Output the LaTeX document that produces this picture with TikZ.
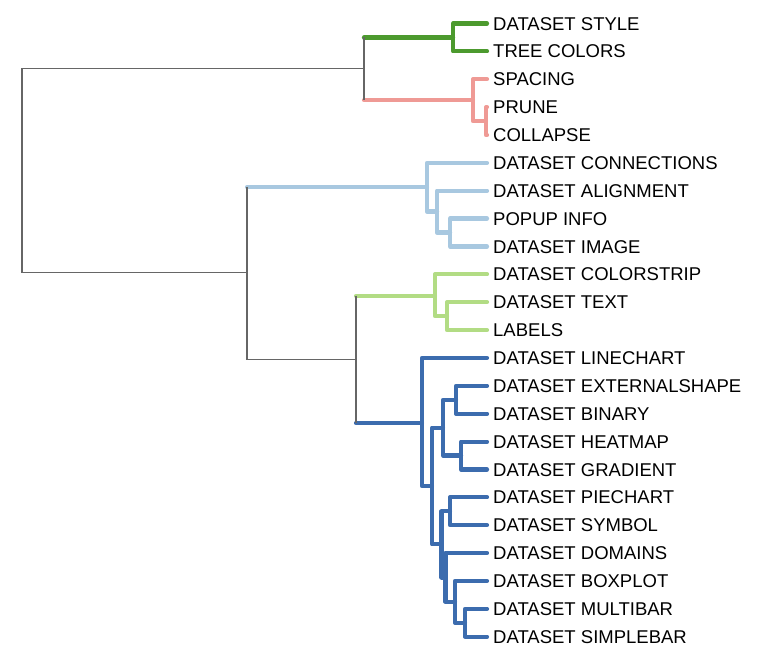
\documentclass[tikz,border=0pt]{standalone}
\usepackage{fontspec}
\setmainfont{Liberation Sans}
\definecolor{treegray}{HTML}{666666}
\definecolor{cgreen}{HTML}{4C9A2E}
\definecolor{cpink}{HTML}{EF9A95}
\definecolor{clblue}{HTML}{A8C8E0}
\definecolor{clgreen}{HTML}{B2DC84}
\definecolor{cdblue}{HTML}{3C6CAE}
\begin{document}
\begin{tikzpicture}[x=1pt,y=-1pt,
  leaf/.style={anchor=west, inner xsep=6pt, inner ysep=0pt, text height=13.2pt, text depth=0pt, font=\fontsize{18.5}{20}\selectfont},
  gbr/.style={draw=treegray, line width=1.2pt},
  cbr/.style={line width=4.2pt, line cap=round, line join=round}]
\useasboundingbox (0,0) rectangle (758,668);
% leaves
\node[leaf] (n1) at (487,23.5) {DATASET STYLE};
\node[leaf] (n2) at (487,51.4) {TREE COLORS};
\node[leaf] (n3) at (487,79.2) {SPACING};
\node[leaf] (n4) at (487,107.1) {PRUNE};
\node[leaf] (n5) at (487,135) {COLLAPSE};
\node[leaf] (n6) at (487,162.9) {DATASET CONNECTIONS};
\node[leaf] (n7) at (487,190.7) {DATASET ALIGNMENT};
\node[leaf] (n8) at (487,218.6) {POPUP INFO};
\node[leaf] (n9) at (487,246.5) {DATASET IMAGE};
\node[leaf] (n10) at (487,274.3) {DATASET COLORSTRIP};
\node[leaf] (n11) at (487,302.2) {DATASET TEXT};
\node[leaf] (n12) at (487,330.1) {LABELS};
\node[leaf] (n13) at (487,357.9) {DATASET LINECHART};
\node[leaf] (n14) at (487,385.8) {DATASET EXTERNALSHAPE};
\node[leaf] (n15) at (487,413.7) {DATASET BINARY};
\node[leaf] (n16) at (487,441.6) {DATASET HEATMAP};
\node[leaf] (n17) at (487,469.4) {DATASET GRADIENT};
\node[leaf] (n18) at (487,497.3) {DATASET PIECHART};
\node[leaf] (n19) at (487,525.2) {DATASET SYMBOL};
\node[leaf] (n20) at (487,553.0) {DATASET DOMAINS};
\node[leaf] (n21) at (487,580.9) {DATASET BOXPLOT};
\node[leaf] (n22) at (487,608.8) {DATASET MULTIBAR};
\node[leaf] (n23) at (487,636.6) {DATASET SIMPLEBAR};
% internal nodes
\coordinate (R) at (22,170.9);
\coordinate (U) at (364,68.8);
\coordinate (L) at (247,272.9);
\coordinate (LL) at (356,359.5);
\coordinate (G) at (453,37.5);
\coordinate (P) at (473,100.1);
\coordinate (P2) at (486,121);
\coordinate (B1) at (427,187.3);
\coordinate (B2) at (437,211.6);
\coordinate (B3) at (450,232.6);
\coordinate (LG) at (435,296);
\coordinate (LG2) at (447,316.2);
\coordinate (DB) at (422,423);
\coordinate (A) at (432,486);
\coordinate (N1) at (443,427.6);
\coordinate (Na) at (456,399.8);
\coordinate (Nb) at (461,455.5);
\coordinate (Bn) at (441.5,544.3);
\coordinate (Pn) at (450,511.3);
\coordinate (C) at (445.5,577.4);
\coordinate (D) at (455,601.8);
\coordinate (E) at (465,622.7);
% green clade
\draw[cbr,cgreen] (U |- G) -- (G);
\draw[cbr,cgreen] (G) |- (n1.west);
\draw[cbr,cgreen] (G) |- (n2.west);
% pink clade
\draw[cbr,cpink] (U |- P) -- (P);
\draw[cbr,cpink] (P) |- (n3.west);
\draw[cbr,cpink] (P) |- (P2);
\draw[cbr,cpink] (P2) |- (n4.west);
\draw[cbr,cpink] (P2) |- (n5.west);
% light blue clade
\draw[cbr,clblue] (L |- B1) -- (B1);
\draw[cbr,clblue] (B1) |- (n6.west);
\draw[cbr,clblue] (B1) |- (B2);
\draw[cbr,clblue] (B2) |- (n7.west);
\draw[cbr,clblue] (B2) |- (B3);
\draw[cbr,clblue] (B3) |- (n8.west);
\draw[cbr,clblue] (B3) |- (n9.west);
% light green clade
\draw[cbr,clgreen] (LL |- LG) -- (LG);
\draw[cbr,clgreen] (LG) |- (n10.west);
\draw[cbr,clgreen] (LG) |- (LG2);
\draw[cbr,clgreen] (LG2) |- (n11.west);
\draw[cbr,clgreen] (LG2) |- (n12.west);
% dark blue clade
\draw[cbr,cdblue] (LL |- DB) -- (DB);
\draw[cbr,cdblue] (DB) |- (n13.west);
\draw[cbr,cdblue] (DB) |- (A);
\draw[cbr,cdblue] (A) |- (N1);
\draw[cbr,cdblue] (N1) |- (Na);
\draw[cbr,cdblue] (Na) |- (n14.west);
\draw[cbr,cdblue] (Na) |- (n15.west);
\draw[cbr,cdblue] (N1) |- (Nb);
\draw[cbr,cdblue] (Nb) |- (n16.west);
\draw[cbr,cdblue] (Nb) |- (n17.west);
\draw[cbr,cdblue] (A) |- (Bn);
\draw[cbr,cdblue] (Bn) |- (Pn);
\draw[cbr,cdblue] (Pn) |- (n18.west);
\draw[cbr,cdblue] (Pn) |- (n19.west);
\draw[cbr,cdblue] (Bn) |- (C);
\draw[cbr,cdblue] (C) |- (n20.west);
\draw[cbr,cdblue] (C) |- (D);
\draw[cbr,cdblue] (D) |- (n21.west);
\draw[cbr,cdblue] (D) |- (E);
\draw[cbr,cdblue] (E) |- (n22.west);
\draw[cbr,cdblue] (E) |- (n23.west);
% gray backbone
\draw[gbr] (U) -| (R) |- (L);
\draw[gbr] (U |- G) -- (U |- P);
\draw[gbr] (L |- B1) -- (L |- LL) -- (LL);
\draw[gbr] (LL |- LG) -- (LL |- DB);
\end{tikzpicture}
\end{document}
